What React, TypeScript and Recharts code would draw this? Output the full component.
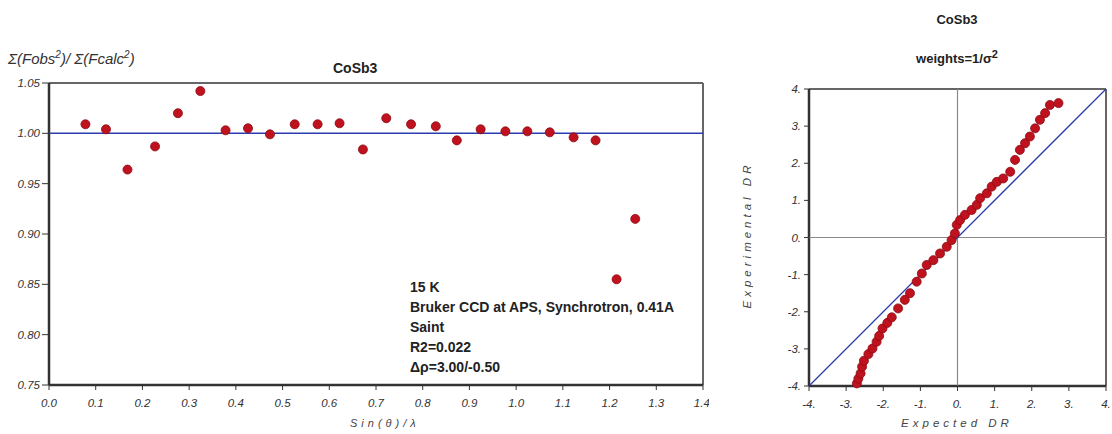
import { ScatterChart, Scatter, XAxis, YAxis, ZAxis, ReferenceLine } from "recharts";

// left panel: ratio vs sin(theta)/lambda
const sinThetaLambda = [0.078, 0.122, 0.168, 0.227, 0.276, 0.324, 0.378, 0.426, 0.473, 0.526, 0.575, 0.622, 0.672, 0.722, 0.775, 0.828, 0.873, 0.924, 0.977, 1.024, 1.072, 1.123, 1.170, 1.215, 1.255];
const fRatio = [1.009, 1.004, 0.964, 0.987, 1.020, 1.042, 1.003, 1.005, 0.999, 1.009, 1.009, 1.010, 0.984, 1.015, 1.009, 1.007, 0.993, 1.004, 1.002, 1.002, 1.001, 0.996, 0.993, 0.855, 0.915];
const ratioTicks = [0.75, 0.8, 0.85, 0.9, 0.95, 1.0, 1.05];
const sinTicks = [0, 0.1, 0.2, 0.3, 0.4, 0.5, 0.6, 0.7, 0.8, 0.9, 1.0, 1.1, 1.2, 1.3, 1.4];

// right panel: normal probability plot
const expectedDR = [-2.71, -2.67, -2.61, -2.57, -2.52, -2.40, -2.29, -2.18, -2.11, -2.02, -1.89, -1.77, -1.60, -1.42, -1.28, -1.10, -0.96, -0.83, -0.65, -0.47, -0.29, -0.16, -0.07, -0.02, 0.07, 0.20, 0.38, 0.52, 0.61, 0.79, 0.92, 1.06, 1.23, 1.42, 1.55, 1.68, 1.82, 1.95, 2.09, 2.22, 2.36, 2.49, 2.72];
const experimentalDR = [-3.93, -3.80, -3.66, -3.48, -3.32, -3.14, -2.99, -2.81, -2.65, -2.45, -2.30, -2.15, -1.91, -1.68, -1.50, -1.19, -0.97, -0.74, -0.61, -0.43, -0.25, -0.07, 0.11, 0.34, 0.47, 0.61, 0.74, 0.88, 1.06, 1.19, 1.37, 1.50, 1.59, 1.77, 2.09, 2.36, 2.54, 2.72, 2.94, 3.17, 3.35, 3.57, 3.62];
const drTicks = [-4, -3, -2, -1, 0, 1, 2, 3, 4];

const leftData = sinThetaLambda.map((x, i) => ({ x, y: fRatio[i] }));
const rightData = expectedDR.map((x, i) => ({ x, y: experimentalDR[i] }));

const tickStyle = { fontSize: 11.5, fontStyle: "italic", fill: "#333", fontFamily: "Arial, 'Liberation Sans', sans-serif", style: { fontStyle: "italic" } };
const frameDark = "#333";
const frameLight = "#666";
const dotRed = "#c0121e";

const abs = (left: number, top: number, extra = {}) => ({ position: "absolute" as const, left, top, ...extra });

export default function App() {
  return (
    <div style={{ position: "absolute", left: 0, top: 0, width: 1112, height: 434, background: "#fff", fontFamily: "Arial, 'Liberation Sans', sans-serif", color: "#222" }}>
      <div style={abs(0, 0)}>
        <ScatterChart width={709} height={434} margin={{ top: 83, right: 6, bottom: 19, left: 4 }}>
          <XAxis type="number" dataKey="x" domain={[0, 1.4]} ticks={sinTicks} tickFormatter={(v: number) => v.toFixed(1)}
            tick={tickStyle} tickSize={5} tickMargin={9} stroke={frameDark} height={30} />
          <YAxis type="number" dataKey="y" domain={[0.75, 1.05]} ticks={ratioTicks} tickFormatter={(v: number) => v.toFixed(2)}
            tick={tickStyle} tickSize={7} tickMargin={2} stroke={frameDark} width={45} />
          <ZAxis range={[50, 50]} />
          <ReferenceLine y={1.05} stroke={frameLight} strokeWidth={2} />
          <ReferenceLine x={1.4} stroke={frameLight} strokeWidth={2} />
          <ReferenceLine x={0} stroke={frameDark} strokeWidth={2.5} />
          <ReferenceLine y={0.75} stroke={frameDark} strokeWidth={2.5} />
          <ReferenceLine y={1} stroke="#2a3cb0" strokeWidth={1.5} />
          <Scatter data={leftData} fill={dotRed} stroke="#8a0a12" strokeWidth={0.8} isAnimationActive={false} />
        </ScatterChart>
      </div>

      <div style={abs(730, 0)}>
        <ScatterChart width={382} height={434} margin={{ top: 89, right: 6, bottom: 18, left: 49 }}>
          <XAxis type="number" dataKey="x" domain={[-4, 4]} ticks={drTicks} tickFormatter={(v: number) => `${v}.`}
            tick={tickStyle} tickSize={5} tickMargin={9} stroke={frameDark} height={30} />
          <YAxis type="number" dataKey="y" domain={[-4, 4]} ticks={drTicks} tickFormatter={(v: number) => `${v}.`}
            tick={tickStyle} tickSize={5} tickMargin={3} stroke={frameDark} width={30} />
          <ZAxis range={[18, 18]} />
          <ReferenceLine y={4} stroke={frameLight} strokeWidth={2} />
          <ReferenceLine x={4} stroke={frameLight} strokeWidth={2} />
          <ReferenceLine x={-4} stroke={frameDark} strokeWidth={2.5} />
          <ReferenceLine y={-4} stroke={frameDark} strokeWidth={2.5} />
          <ReferenceLine x={0} stroke="#8a8a8a" strokeWidth={1.2} />
          <ReferenceLine y={0} stroke="#8a8a8a" strokeWidth={1.2} />
          <ReferenceLine segment={[{ x: -4, y: -4 }, { x: 4, y: 4 }]} stroke="#2a3cb0" strokeWidth={1.3} />
          <Scatter data={rightData} fill={dotRed} stroke="#8a0a12" strokeWidth={0.8} isAnimationActive={false} />
        </ScatterChart>
      </div>

      {/* left panel texts */}
      <div style={abs(8, 49, { fontSize: 15, fontStyle: "italic", color: "#333", whiteSpace: "nowrap" })}>
        Σ(Fobs<sup style={{ fontSize: 10 }}>2</sup>)/ Σ(Fcalc<sup style={{ fontSize: 10 }}>2</sup>)
      </div>
      <div style={abs(333, 60, { fontSize: 14, fontWeight: "bold", color: "#222" })}>CoSb3</div>
      <div style={abs(350, 417, { fontSize: 11, fontStyle: "italic", color: "#444", letterSpacing: 4, whiteSpace: "nowrap" })}>Sin(θ)/λ</div>
      <div style={abs(410, 277, { fontSize: 14, fontWeight: "bold", lineHeight: "20px", fontFamily: "'Liberation Sans Narrow', 'Arial Narrow', Arial, sans-serif", whiteSpace: "nowrap" })}>
        <div>15 K</div>
        <div>Bruker CCD at APS, Synchrotron, 0.41A</div>
        <div>Saint</div>
        <div>R2=0.022</div>
        <div>Δρ=3.00/-0.50</div>
      </div>

      {/* right panel texts */}
      <div style={abs(907, 12, { width: 100, textAlign: "center", fontSize: 13, fontWeight: "bold" })}>CoSb3</div>
      <div style={abs(887, 48, { width: 140, textAlign: "center", fontSize: 13, fontWeight: "bold", whiteSpace: "nowrap" })}>
        weights=1/σ<sup style={{ fontSize: 11 }}>2</sup>
      </div>
      <div style={abs(657, 229, { width: 180, textAlign: "center", fontSize: 11.5, fontStyle: "italic", color: "#444", letterSpacing: 4, transform: "rotate(-90deg)", whiteSpace: "nowrap" })}>
        Experimental DR
      </div>
      <div style={abs(877, 417, { width: 160, textAlign: "center", fontSize: 11.5, fontStyle: "italic", color: "#444", letterSpacing: 4, whiteSpace: "nowrap" })}>
        Expected DR
      </div>
    </div>
  );
}
